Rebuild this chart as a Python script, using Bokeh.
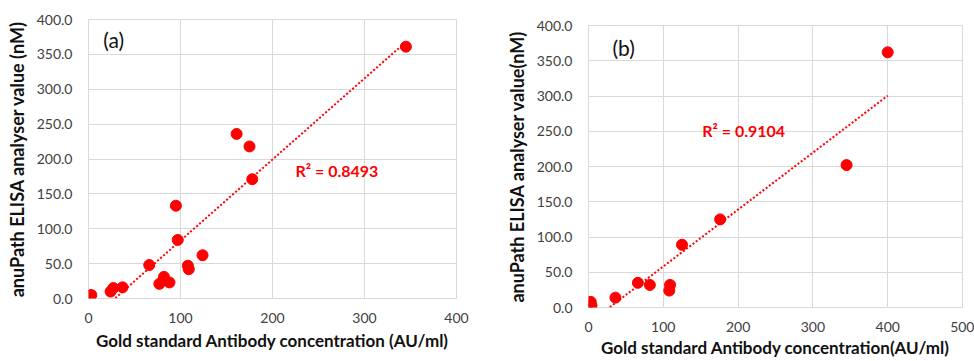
import numpy as np
from bokeh.plotting import figure
from bokeh.layouts import row, column
from bokeh.models import Label, FixedTicker, CustomJSTickFormatter, Range1d
from bokeh.embed import file_html
from bokeh.resources import INLINE

# Panel (a) data
a_x = [3, 24, 27, 37, 66, 77, 82, 88, 95, 97, 108, 109, 124, 161, 175, 178, 345]
a_y = [5, 10, 15, 16, 48, 21, 31, 23, 133, 84, 47, 42, 62, 236, 218, 171, 361]
a_r2 = "R\u00b2 = 0.8493"

# Panel (b) data
b_x = [3, 4, 36, 66, 82, 109, 108, 125, 176, 345, 400]
b_y = [8, 3, 14, 35, 32, 32, 24, 89, 125, 202, 362]
b_r2 = "R\u00b2 = 0.9104"

y_ticks = [0, 50, 100, 150, 200, 250, 300, 350, 400]
a_x_ticks = [0, 100, 200, 300, 400]
b_x_ticks = [0, 100, 200, 300, 400, 500]

FONT = "Lato"
RED = "#ff0000"
GRID = "#d9d9d9"


def make_panel(xs, ys, xmax, xticks, xlabel, ylabel, tag, r2, tag_pos, r2_pos,
               width, height, borders, xlab_standoff):
    p = figure(width=width, height=height, output_backend="svg", toolbar_location=None,
               title=None,
               x_range=Range1d(0, xmax), y_range=Range1d(0, 400),
               min_border_left=borders[0], min_border_right=borders[1],
               min_border_top=borders[2], min_border_bottom=borders[3])
    p.outline_line_color = GRID
    p.outline_line_width = 1
    p.xgrid.grid_line_color = GRID
    p.ygrid.grid_line_color = GRID
    p.xaxis.ticker = FixedTicker(ticks=xticks)
    p.yaxis.ticker = FixedTicker(ticks=y_ticks)
    p.yaxis.formatter = CustomJSTickFormatter(code="return tick.toFixed(1);")
    for ax in (p.xaxis, p.yaxis):
        ax.axis_line_color = None
        ax.major_tick_line_color = None
        ax.minor_tick_line_color = None
        ax.major_label_text_font = FONT
        ax.major_label_text_font_size = "14px"
        ax.major_label_text_color = "#404040"
        ax.axis_label_text_font = FONT
        ax.axis_label_text_font_style = "bold"
        ax.axis_label_text_color = "#111111"
    p.xaxis.axis_label_text_font_size = "17px"
    p.yaxis.axis_label_text_font_size = "18px"
    p.xaxis.axis_label = xlabel
    p.yaxis.axis_label = ylabel
    p.xaxis.major_label_standoff = 8
    p.yaxis.major_label_standoff = 10
    p.xaxis.axis_label_standoff = xlab_standoff
    p.yaxis.axis_label_standoff = 6

    xa = np.array(xs, dtype=float)
    ya = np.array(ys, dtype=float)
    m, c = np.polyfit(xa, ya, 1)
    lx = np.array([xa.min(), xa.max()])
    p.line(lx, m * lx + c, line_color=RED, line_width=2, line_dash="2 2")
    p.scatter(xs, ys, size=11, fill_color=RED, line_color=RED)

    p.add_layout(Label(x=tag_pos[0], y=tag_pos[1], text=tag, text_font=FONT,
                       text_font_size="21px", text_color="#111111",
                       text_baseline="middle"))
    p.add_layout(Label(x=r2_pos[0], y=r2_pos[1], text=r2, text_font=FONT,
                       text_font_style="bold", text_font_size="16px",
                       text_color=RED, text_baseline="middle"))
    return p


pa = make_panel(a_x, a_y, 400, a_x_ticks,
                "Gold standard Antibody concentration (AU/ml)",
                "anuPath ELISA analyser value (nM)", "(a)", a_r2,
                (16, 372), (225, 184), 480, 353, (88, 24, 19, 0), 4)
pb = make_panel(b_x, b_y, 500, b_x_ticks,
                "Gold standard Antibody concentration(AU/ml)",
                "anuPath ELISA analyser value(nM)", "(b)", b_r2,
                (32, 369), (152, 251), 494, 360, (108, 12, 25, 0), 2)

layout = row(column(pa), column(pb))
open("out.html", "w").write(file_html(layout, INLINE))
